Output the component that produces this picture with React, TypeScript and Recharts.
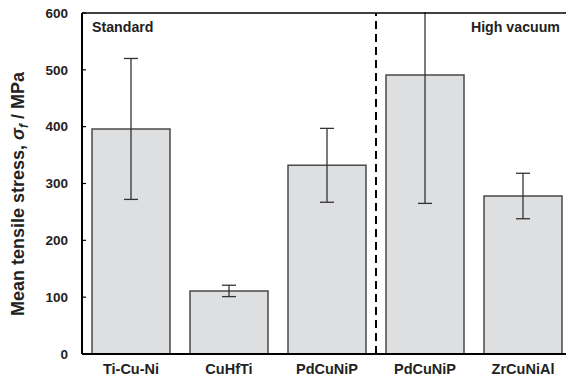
import { Bar, BarChart, ErrorBar, Label, ReferenceLine, XAxis, YAxis } from "recharts";

const categories = ["Ti-Cu-Ni", "CuHfTi", "PdCuNiP", "PdCuNiP", "ZrCuNiAl"];
const meanStress = [396, 111, 332, 491, 278];
const stressError = [124, 10, 65, 226, 40];
const yTicks = [0, 100, 200, 300, 400, 500, 600];

const FONT = "'Liberation Sans', Arial, sans-serif";
const TEXT = "#222";

const data = categories.map((name, i) => ({ idx: i, name, stress: meanStress[i], err: stressError[i] }));

function YLabel() {
  return (
    <text
      x={24}
      y={194}
      transform="rotate(-90 24 194)"
      textAnchor="middle"
      fontFamily={FONT}
      fontWeight="bold"
      fontSize={18}
      fill={TEXT}
    >
      Mean tensile stress,{" "}
      <tspan fontStyle="italic">σ</tspan>
      <tspan fontStyle="italic" fontSize={12} dy={4}>
        f
      </tspan>
      <tspan dy={-4}> / MPa</tspan>
    </text>
  );
}

function RegionLabels({ viewBox }: any) {
  const { x, y } = viewBox;
  return (
    <g fontFamily={FONT} fontWeight="bold" fontSize={14.2} fill={TEXT}>
      <text x={x + 10} y={y + 19}>
        Standard
      </text>
      <text x={560} y={y + 19} textAnchor="end">
        High vacuum
      </text>
    </g>
  );
}

export default function App() {
  // the frame runs off the right edge in the original, so the wrapper crops the chart
  return (
    <div style={{ position: "fixed", left: 0, top: 0, width: 566, height: 381, overflow: "hidden", background: "#fff" }}>
      <BarChart width={574} height={381} data={data} margin={{ top: 13, right: 2, left: 8, bottom: 0 }}>
        <XAxis
          dataKey="idx"
          type="number"
          domain={[-0.5, 4.5]}
          ticks={[0, 1, 2, 3, 4]}
          tickFormatter={(v: number) => categories[v]}
          height={27}
          tickLine={false}
          tickMargin={4}
          axisLine={{ stroke: "#000", strokeWidth: 2 }}
          tick={{ fill: TEXT, fontSize: 14.5, fontWeight: "bold", fontFamily: FONT }}
        />
        <YAxis
          width={74}
          domain={[0, 600]}
          ticks={yTicks}
          allowDataOverflow
          tickSize={-4}
          tickMargin={18}
          axisLine={{ stroke: "#000", strokeWidth: 2 }}
          tickLine={{ stroke: "#000", strokeWidth: 1.2 }}
          tick={{ fill: TEXT, fontSize: 13.5, fontWeight: "bold", fontFamily: FONT }}
        >
          <Label content={<YLabel />} />
        </YAxis>
        <Bar dataKey="stress" barSize={78} fill="#dedfe1" stroke="#4a4a4a" strokeWidth={1.5} isAnimationActive={false}>
          <ErrorBar dataKey="err" width={7} stroke="#333" strokeWidth={1.3} isAnimationActive={false} />
        </Bar>
        <ReferenceLine x={2.5} stroke="#000" strokeWidth={2} strokeDasharray="8 5" />
        <ReferenceLine y={600} stroke="#000" strokeWidth={1.5} label={<RegionLabels />} />
      </BarChart>
      {/* the high-vacuum PdCuNiP error bar runs past 600; hide the part above the frame */}
      <div style={{ position: "absolute", left: 86, top: 0, width: 480, height: 12, background: "#fff" }} />
    </div>
  );
}
